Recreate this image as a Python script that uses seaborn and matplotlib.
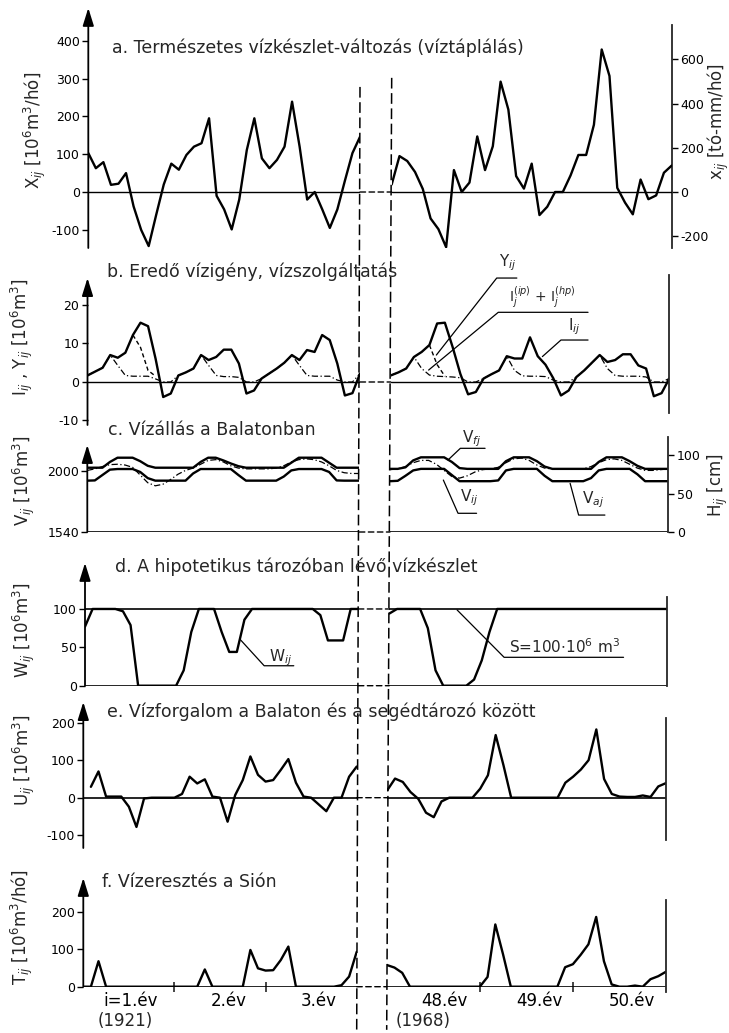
import numpy as np
import pandas as pd
import matplotlib
matplotlib.use("Agg")
import matplotlib.pyplot as plt
import seaborn as sns
from matplotlib.patches import ConnectionPatch
from matplotlib.lines import Line2D

sns.set_theme(style="ticks")
plt.rcParams["font.family"] = ["DejaVu Sans"]
plt.rcParams["mathtext.fontset"] = "dejavusans"
plt.rcParams["axes.unicode_minus"] = False

# ---------------- data (monthly points, 3-year windows) ----------------
months = list(range(37))

# a. natural water-resource change X_ij [10^6 m3/month]
X_left = [103, 63, 79, 19, 22, 50, -38, -100, -143, -60, 20, 75, 59, 98, 120, 129, 195, -10, -46,
          -99, -20, 111, 195, 89, 63, 85, 120, 239, 120, -20, 0, -46, -95, -46, 30, 103, 146]
X_right = [20, 95, 82, 53, 8, -70, -98, -146, 58, 0, 25, 147, 58, 121, 292, 218, 42, 9, 75, -61,
           -39, 0, 0, 44, 98, 98, 178, 377, 307, 11, -28, -59, 33, -19, -9, 51, 70]
MM_PER_UNIT = 1.71   # lake-mm per 10^6 m3

# b. demand I_ij, I^(ip)+I^(hp), supply Y_ij [10^6 m3]
I_left = [1.7, 2.7, 3.7, 7.0, 6.3, 7.6, 12.2, 15.4, 14.5, 6.0, -3.9, -3.0, 1.7, 2.5, 3.5, 7.0, 5.7,
          6.5, 8.4, 8.4, 4.8, -3.0, -2.2, 0.9, 2.2, 3.5, 5.0, 7.0, 5.7, 8.3, 7.8, 12.2, 10.9, 4.8,
          -3.5, -2.9, 2.2]
I_right = [1.7, 2.5, 3.5, 6.5, 7.8, 9.6, 15.2, 15.4, 9.1, 2.1, -3.2, -2.6, 0.9, 2.0, 3.0, 6.7, 6.1,
           6.1, 11.6, 6.7, 4.5, 1.0, -3.5, -2.2, 1.3, 3.0, 5.0, 7.0, 5.2, 5.7, 7.2, 7.2, 4.3, 3.5,
           -3.7, -2.9, 0.9]
IPHP_left = [1.7, 2.7, 3.7, 7.0, 4.3, 1.7, 1.5, 1.5, 1.5, 0.8, 0, 0, 1.7, 2.5, 3.5, 7.0, 4.3, 1.7,
             1.4, 1.4, 1.2, 0, 0, 0.9, 2.2, 3.5, 5.0, 7.0, 4.3, 1.7, 1.5, 1.5, 1.5, 0.5, 0, 0, 2.2]
IPHP_right = [1.7, 2.5, 3.5, 6.5, 3.5, 1.8, 1.5, 1.4, 1.3, 1.1, 0, 0, 0.9, 2.0, 3.0, 6.7, 3.0, 1.6,
              1.5, 1.5, 1.4, 0.5, 0, 0, 1.3, 3.0, 5.0, 7.0, 3.5, 1.7, 1.5, 1.5, 1.5, 1.3, 0, 0, 0.9]
Y_left_months = [6, 7, 8, 9]
Y_left = [12.2, 9.0, 3.0, 1.5]
Y_right_months = [5, 6, 7]
Y_right = [9.6, 4.5, 1.5]

# c. lake water level H [cm]  (V = 1540 + 5.807*H  [10^6 m3])
Vf_left = [83.5, 83.5, 83.5, 91, 96.5, 96.5, 96.5, 92, 86, 83.5, 83.5, 83.5, 83.5, 83.5, 83.5, 91,
           96.5, 96.5, 93, 89, 85.5, 83.5, 83.5, 83.5, 83.5, 83.5, 83.5, 90, 96.5, 96.5, 96.5,
           96.5, 90, 83.5, 83.5, 83.5, 83.5]
Va_left = [66.7, 67, 74, 81, 81.8, 81.8, 81.8, 78, 70, 66.7, 66.7, 66.7, 66.7, 66.7, 76, 81.8, 81.8,
           81.8, 81.8, 81.8, 74, 66.7, 66.7, 66.7, 66.7, 66.7, 72, 80, 81.8, 81.8, 81.8, 81.8, 78,
           67, 66.7, 66.7, 66.7]
Vi_left = [80, 82, 85, 87.5, 88, 87, 84, 74, 64, 60, 62, 68, 75, 80, 83, 88, 93, 94, 91, 86, 83, 82,
           82, 82, 82, 83, 86, 91, 94, 95, 94, 91, 86, 80, 77, 76, 76]
Vf_right = [82, 82, 84, 93, 97, 97, 97, 97, 91, 83, 82, 82, 82, 82, 82, 92, 97, 97, 97, 92, 85, 82,
            82, 82, 82, 82, 82, 91, 97, 97, 97, 92, 86, 82, 82, 82, 82]
Va_right = [66, 66.5, 73, 80, 82, 82, 82, 82, 74, 66, 66, 66, 66, 66, 67, 80, 82, 82, 82, 82, 73, 66,
            66, 66, 66, 66, 70, 80, 82, 82, 82, 82, 75, 66, 66, 66, 66]
Vi_right = [81, 82, 85, 90, 93, 93, 88, 80, 72, 70, 73, 78, 81, 82, 84, 90, 95, 96, 93, 87, 83, 82,
            82, 82, 82, 82, 85, 90, 94, 95, 93, 88, 83, 80, 80, 81, 82]
H_TO_V = 5.807
V_BASE = 1540

# d. storage in hypothetical reservoir W_ij [10^6 m3]
S_CAP = 100
W_left = [77, 100, 100, 100, 100, 97, 79, 0, 0, 0, 0, 0, 0, 20, 70, 100, 100, 100, 70, 44, 44, 86,
          100, 100, 100, 100, 100, 100, 100, 100, 100, 92, 59, 59, 59, 100, 100]
W_right = [94, 100, 100, 100, 100, 75, 20, 0, 0, 0, 0, 8, 33, 70, 100, 100, 100, 100, 100, 100, 100,
           100, 100, 100, 100, 100, 100, 100, 100, 100, 100, 100, 100, 100, 100, 100, 100]

# e. exchange between Balaton and auxiliary reservoir U_ij [10^6 m3]
U_left = [np.nan, 29, 70, 3, 3, 3, -24, -78, -2, 0, 0, 0, 0, 10, 56, 38, 49, 3, 0, -64, 7, 47, 110,
          61, 43, 47, 74, 103, 40, 3, 0, -18, -36, 0, 0, 56, 83]
U_right = [20, 51, 42, 15, -3, -40, -52, -10, 0, 0, 0, 0, 24, 60, 167, 87, 0, 0, 0, 0, 0, 0, 0, 40,
           56, 75, 100, 182, 50, 10, 3, 2, 2, 6, 2, 30, 39]

# f. release through the Sió T_ij [10^6 m3/month]
T_left = [0, 0, 68, 0, 0, 0, 0, 0, 0, 0, 0, 0, 0, 0, 0, 0, 46, 0, 0, 0, 0, 0, 98, 49, 43, 44, 71,
          107, 0, 0, 0, 0, 0, 0, 4, 27, 93]
T_right = [58, 51, 37, 0, 0, 0, 0, 0, 0, 0, 0, 0, 0, 26, 166, 86, 0, 0, 0, 0, 0, 0, 0, 52, 60, 85,
           113, 186, 68, 6, 0, 0, 3, 0, 20, 28, 40]

year_ticks = [12, 24]
left_year_labels = ["i=1.év", "2.év", "3.év"]
left_year_pos = [6.2, 19.2, 31.0]
right_year_labels = ["48.év", "49.év", "50.év"]
right_year_pos = [7.4, 19.7, 31.6]

titles = {
    "a": "a. Természetes vízkészlet-változás (víztáplálás)",
    "b": "b. Eredő vízigény, vízszolgáltatás",
    "c": "c. Vízállás a Balatonban",
    "d": "d. A hipotetikus tározóban lévő vízkészlet",
    "e": "e. Vízforgalom a Balaton és a segédtározó között",
    "f": "f. Vízeresztés a Sión",
}

# ---------------- layout ----------------
FW, FH = 729, 1033
fig = plt.figure(figsize=(FW / 100, FH / 100), dpi=100)

def add_ax(x0, x1, y0, y1):
    ax = fig.add_axes([x0 / FW, 1 - y1 / FH, (x1 - x0) / FW, (y1 - y0) / FH])
    ax.patch.set_alpha(0)
    return ax

# rows: top px, bottom px, left segment x px, right segment x px, ylim, arrow tip
rows = {
    "a": (25, 248, (88.3, 360.0), (391.7, 671.7), (-148.1, 441.8), 487),
    "b": (275, 425, (87.5, 360.0), (390.7, 669.3), (-11.17, 27.79), 27.0),
    "c": (437, 532, (87.3, 359.3), (390.0, 668.3), (0, 123.4), 113),
    "d": (597, 685.7, (85.0, 358.3), (389.3, 666.7), (0, 115.6), 160),
    "e": (718, 848, (83.3, 356.7), (387.3, 666.0), (-134.1, 212.5), 255),
    "f": (900, 986.7, (83.3, 356.7), (386.7, 666.0), (0, 231.2), 290),
}
right_bounds = {"b": (-8.0, 27.79), "e": (-113, 212.5), "f": (-13, 231.2)}
yticks = {"a": [-100, 0, 100, 200, 300, 400], "b": [-10, 0, 10, 20], "d": [0, 50, 100],
          "e": [-100, 0, 100, 200], "f": [0, 100, 200]}
title_pos = {"a": (112, 48), "b": (107, 272), "c": (108, 430), "d": (115, 567),
             "e": (107, 712), "f": (102, 882)}

TICK_FS = 9
TITLE_FS = 12.5
LABEL_FS = 12

axes = {}
for key, (top, bot, xl, xr, ylim, tip) in rows.items():
    axL = add_ax(xl[0], xl[1], top, bot)
    axR = add_ax(xr[0], xr[1], top, bot)
    axes[key] = (axL, axR)

def draw(ax, x, y, lw=1.7, ls="-"):
    df = pd.DataFrame({"m": x, "v": y}).dropna()
    sns.lineplot(data=df, x="m", y="v", ax=ax, color="black", linewidth=lw, linestyle=ls,
                 estimator=None, sort=False, legend=False)

DASHDOT = (0, (5, 2, 1, 2))
DASHED = (0, (3, 2))

# a
aL, aR = axes["a"]
draw(aL, months, X_left); draw(aR, months, X_right)
# b
bL, bR = axes["b"]
draw(bL, months, IPHP_left, lw=0.9, ls=DASHDOT); draw(bR, months, IPHP_right, lw=0.9, ls=DASHDOT)
draw(bL, Y_left_months, Y_left, lw=1.0, ls=DASHED); draw(bR, Y_right_months, Y_right, lw=1.0, ls=DASHED)
draw(bL, months, I_left); draw(bR, months, I_right)
# c
cL, cR = axes["c"]
for ax, vf, va, vi in [(cL, Vf_left, Va_left, Vi_left), (cR, Vf_right, Va_right, Vi_right)]:
    draw(ax, months, vi, lw=0.9, ls=DASHDOT)
    draw(ax, months, vf); draw(ax, months, va)
# d
dL, dR = axes["d"]
draw(dL, months, W_left); draw(dR, months, W_right)
# e
eL, eR = axes["e"]
draw(eL, months, U_left); draw(eR, months, U_right)
# f
fL, fR = axes["f"]
draw(fL, months, T_left); draw(fR, months, T_right)

# ---------------- styling ----------------
for key, (top, bot, xl, xr, ylim, tip) in rows.items():
    axL, axR = axes[key]
    for ax in (axL, axR):
        for s in ax.spines.values():
            s.set_visible(False)
        ax.set_xlim(0, 36)
        ax.set_ylim(*ylim)
        ax.set_xlabel(""); ax.set_ylabel("")
        ax.set_xticks([])
    # reference lines
    refs = [0] if key != "d" else [0, S_CAP]
    for ax in (axL, axR):
        for r in refs:
            ax.axhline(r, color="black", lw=1.0 if key in "ab" else 1.2, zorder=1)
    for r in refs:
        con = ConnectionPatch(xyA=(36, r), coordsA="data", axesA=axL, xyB=(0, r), coordsB="data",
                              axesB=axR, color="black", lw=1.0, linestyle=(0, (4, 2.5)),
                              annotation_clip=False)
        fig.add_artist(con)
    # left axis with arrow
    axL.annotate("", xy=(0, tip), xytext=(0, ylim[0]), xycoords="data", textcoords="data",
                 arrowprops=dict(arrowstyle="-|>,head_length=0.9,head_width=0.28", color="black",
                                 lw=1.3, shrinkA=0, shrinkB=0), annotation_clip=False)
    if key in yticks:
        axL.set_yticks(yticks[key])
        axL.tick_params(axis="y", left=True, labelleft=True, direction="out", length=4, width=1,
                        pad=2, labelsize=TICK_FS, colors="black")
    else:
        axL.set_yticks([])
    # right axis line
    if key not in ("a",):
        axR.spines["right"].set_visible(True)
        axR.spines["right"].set_linewidth(1.3)
        if key in right_bounds:
            axR.spines["right"].set_bounds(*right_bounds[key])
    if key not in ("c",):
        axR.set_yticks([])
    # titles
    tx, ty = title_pos[key]
    fig.text(tx / FW, 1 - ty / FH, titles[key], fontsize=TITLE_FS, ha="left", va="center")

# a: right axis in lake-mm
sec_a = aR.secondary_yaxis("right", functions=(lambda v: v * MM_PER_UNIT, lambda m: m / MM_PER_UNIT))
sec_a.set_yticks([-200, 0, 200, 400, 600])
sec_a.spines["right"].set_linewidth(1.3)
sec_a.tick_params(axis="y", direction="out", length=4, width=1, pad=2, labelsize=TICK_FS, colors="black")

# c: left axis in volume, right axis in cm
sec_c = cL.secondary_yaxis("left", functions=(lambda h: V_BASE + h * H_TO_V, lambda v: (v - V_BASE) / H_TO_V))
sec_c.set_yticks([1540, 2000])
sec_c.spines["left"].set_visible(False)
sec_c.tick_params(axis="y", direction="out", length=4, width=1, pad=2, labelsize=TICK_FS, colors="black")
cR.yaxis.tick_right()
cR.set_yticks([0, 50, 100])
cR.tick_params(axis="y", right=True, labelright=True, direction="out", length=4, width=1, pad=2,
               labelsize=TICK_FS, colors="black")

# f: x axis (years)
fL.set_xticks(left_year_pos, left_year_labels)
fR.set_xticks(right_year_pos, right_year_labels)
for ax in (fL, fR):
    ax.set_xticks(year_ticks, minor=True)
    ax.tick_params(axis="x", which="major", bottom=True, length=0, pad=4, labelsize=LABEL_FS, colors="black")
    ax.tick_params(axis="x", which="minor", bottom=True, length=7, width=1.2, direction="inout")
fL.text(5.5, -91.5, "(1921)", ha="center", va="center", fontsize=LABEL_FS, clip_on=False)
fR.text(4.7, -91.5, "(1968)", ha="center", va="center", fontsize=LABEL_FS, clip_on=False)

# long vertical dashed separators (from the top row to below the bottom row)
inv = fig.transFigure.inverted()
for axT, axB, x, ytop in [(aL, fL, 36, 278), (aR, fR, 0, 302)]:
    p1 = inv.transform(axT.transData.transform((x, ytop)))
    p2 = inv.transform(axB.transData.transform((x, -115)))
    fig.add_artist(Line2D([p1[0], p2[0]], [p1[1], p2[1]], transform=fig.transFigure,
                          color="black", lw=1.1, linestyle=(0, (7, 3))))

# y labels
ylabels = [
    (r"X$_{ij}$ [10$^6$m$^3$/hó]", 35, 130),
    (r"x$_{ij}$ [tó-mm/hó]", 718, 122),
    (r"I$_{ij}$ , Y$_{ij}$ [10$^6$m$^3$]", 22, 337),
    (r"V$_{ij}$ [10$^6$m$^3$]", 24, 481),
    (r"H$_{ij}$ [cm]", 718, 485),
    (r"W$_{ij}$ [10$^6$m$^3$]", 24, 630),
    (r"U$_{ij}$ [10$^6$m$^3$]", 24, 760),
    (r"T$_{ij}$ [10$^6$m$^3$/hó]", 22, 927),
]
for txt, x, y in ylabels:
    fig.text(x / FW, 1 - y / FH, txt, rotation=90, ha="center", va="center", fontsize=LABEL_FS)

# leader-line labels
def leader(ax, pts, label, tpos, fs=11):
    xs, ys = zip(*pts)
    ax.plot(xs, ys, color="black", lw=0.9, clip_on=False)
    ax.text(tpos[0], tpos[1], label, ha="center", va="center", fontsize=fs, clip_on=False)

leader(bR, [(5.9, 7.0), (13.7, 27.0), (16.3, 27.0)], r"Y$_{ij}$", (15.1, 31.0))
leader(bR, [(4.9, 3.1), (13.9, 18.1), (25.5, 18.1)], r"I$_j^{(ip)}$ + I$_j^{(hp)}$", (19.6, 22.0), fs=10)
leader(bR, [(19.6, 6.6), (22.0, 10.9), (25.5, 10.9)], r"I$_{ij}$", (23.7, 14.4))
leader(cR, [(7.5, 93.5), (9.1, 108.7), (12.3, 108.7)], r"V$_{fj}$", (10.6, 121))
leader(cR, [(6.9, 67.5), (8.8, 24.3), (11.2, 24.3)], r"V$_{ij}$", (10.2, 44))
leader(cR, [(23.3, 63.2), (24.4, 22.0), (27.8, 22.0)], r"V$_{aj}$", (26.2, 42))
leader(dL, [(20.5, 59.6), (23.6, 26.0), (27.5, 26.0)], r"W$_{ij}$", (25.8, 37.0))
leader(dR, [(8.8, 98.7), (14.9, 37.0), (30.4, 37.0)], r"S=100$\cdot$10$^6$ m$^3$", (22.7, 51.0))

fig.savefig("out.png", dpi=100)
